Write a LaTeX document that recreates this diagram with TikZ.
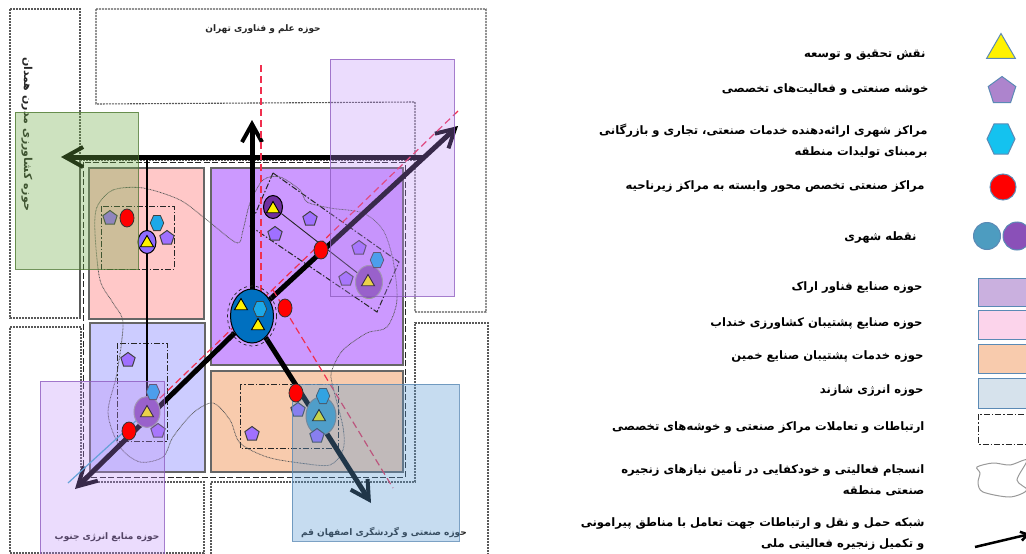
\documentclass[tikz,border=0pt]{standalone}
\usepackage{fontspec}
\usetikzlibrary{shapes.geometric,arrows.meta}
\TeXXeTstate=1
\newfontfamily\farsi[Script=Arabic]{DejaVu Sans}
\newcommand{\fatext}[1]{\beginR #1\endR}
\definecolor{pinkzone}{HTML}{FFC8C8}
\definecolor{lilaczone}{HTML}{CCCCFF}
\definecolor{purplezone}{HTML}{CC99FF}
\definecolor{orangezone}{HTML}{F8CBAD}
\definecolor{veilgreen}{HTML}{70AD47}
\definecolor{veilpurple}{HTML}{BC8AF8}
\definecolor{veilblue}{HTML}{5C9BD4}
\definecolor{veiledge}{HTML}{8E5CC0}
\definecolor{redline}{HTML}{F0304F}
\definecolor{edgeblue}{HTML}{5B8AB5}
\definecolor{darktown}{HTML}{7030A0}
\definecolor{midtown}{HTML}{8A50B8}
\definecolor{coreblue}{HTML}{0070C0}
\definecolor{skyblue}{HTML}{1CA8E8}
\definecolor{clusterfill}{HTML}{A070FF}
\pgfdeclarelayer{under}
\pgfsetlayers{under,main}

\begin{document}
\begin{tikzpicture}
  [x=1pt, y=-1pt,
   zone/.style={draw=black!60, line width=1.5},
   field/.style={draw=black!65, line width=1.1, dash pattern=on 2pt off 1pt},
   reach/.style={draw=black!85, line width=1, dash pattern=on 6pt off 2pt on 1.5pt off 2pt},
   veil/.style={fill opacity=.3, draw opacity=.8, line width=1},
   route/.style={black, line width=5, -{Straight Barb[length=18pt,width=20pt,line width=4pt]}},
   redaxis/.style={redline, line width=1.2, dash pattern=on 7pt off 4pt},
   blob/.style={draw=black!65, line width=.8, dash pattern=on .8pt off .7pt},
   cluster/.style={regular polygon, regular polygon sides=5, minimum size=15, inner sep=0, draw=black!75, line width=1, fill=clusterfill},
   service/.style={regular polygon, regular polygon sides=6, minimum size=13.5, inner sep=0, draw=black!75, line width=.8, fill=skyblue, yscale=1.3, transform shape},
   research/.style={regular polygon, regular polygon sides=3, minimum size=15, inner sep=0, draw=black, line width=.9, fill=yellow},
   plant/.style={ellipse, minimum width=14, minimum height=18, inner sep=0, draw=black!80, line width=.8, fill=red},
   town/.style={ellipse, inner sep=0, draw=black, line width=1},
   keymark/.style={draw=edgeblue, line width=1},
   swatch/.style={draw=edgeblue, line width=1},
   keytext/.style={anchor=east, align=right, font=\farsi\bfseries\fontsize{11.6}{21.5}\selectfont},
   maptext/.style={font=\farsi\bfseries\fontsize{9}{10}\selectfont, text=black!85}]
  \useasboundingbox (0,0) rectangle (1026,554);

  \begin{pgfonlayer}{under}
    \draw [zone, fill=pinkzone] (89,168) rectangle (204,319);
    \draw [zone, fill=lilaczone] (90,323) rectangle (205,472);
    \draw [zone, fill=purplezone] (211,168) rectangle (403,365);
    \draw [zone, fill=orangezone] (211,371) rectangle (403,472);

    \draw [field] (10,9) rectangle (80,318);
    \draw [field] (96,9) -- (486,9) -- (486,312) -- (415,312) -- (415,102) -- (96,104) -- cycle;
    \draw [field] (10,327) -- (81,327) -- (81,482) -- (204,482) -- (204,553) -- (10,553) -- cycle;
    \draw [field] (211,482) -- (415,482) -- (415,323) -- (488,323) -- (488,556) -- (211,556) -- cycle;
    \draw [field] (80,160) -- (415,160) (80,160) -- (80,318);
    \draw [draw=black!85, line width=1, dash pattern=on 6pt off 2.5pt] (83,162) rectangle (405,477);

    \draw [reach] (101,206) rectangle (174,269);
    \draw [reach] (117,343) rectangle (167,441);
    \draw [reach] (240,384) rectangle (338,448);
    \draw [reach] (273,173) -- (399,262) -- (377,312) -- (250,226) -- cycle;

    \draw [blob] plot [smooth cycle] coordinates {(97,207) (113,190) (143,188) (180,200) (207,220)
      (237,243) (243,230) (250,203) (263,180) (280,177) (300,190) (307,202) (330,208) (363,213)
      (383,230) (393,260) (397,300) (387,327) (367,333) (343,350) (332,370) (332,383) (343,427)
      (343,450) (330,465) (300,463) (267,457) (240,443) (230,420) (213,403) (193,413) (173,437)
      (163,457) (140,462) (120,447) (108,413) (117,373) (123,323) (113,303) (100,280) (95,233)};
  \end{pgfonlayer}

  \node [name=core, town, fill=coreblue, minimum width=43, minimum height=54] at (252,316) {};
  \node [name=corering, town, draw=black!85, line width=.7, dashed, minimum width=49, minimum height=60] at (252,316) {};
  \node [name=coretri1, research] at (241,306) {};
  \node [name=coretri2, research] at (258,326) {};
  \node [name=corehex, service] at (260,309) {};

  \node [name=pinktown, town, fill=purplezone!70!blue, minimum width=18, minimum height=23] at (147,242) {};
  \node [name=pinktri, research] at (147,243) {};
  \node [name=pinkclus1, cluster] at (110,218) {};
  \node [name=pinkclus2, cluster] at (167,238) {};
  \node [name=pinkhex, service] at (157,223) {};

  \node [name=archtown, town, fill=darktown, minimum width=19, minimum height=23] at (273,207) {};
  \node [name=archtri, research] at (273,209) {};
  \node [name=eastclus1, cluster] at (310,219) {};
  \node [name=eastclus2, cluster] at (275,234) {};
  \node [name=eastclus3, cluster] at (359,248) {};
  \node [name=eastclus4, cluster] at (346,279) {};
  \node [name=easttown, town, draw=black!40, fill=midtown, minimum width=27, minimum height=33] at (369,282) {};
  \node [name=easttri, research] at (368,282) {};
  \node [name=easthex, service] at (377,260) {};

  \node [name=lilacclus1, cluster] at (128,360) {};
  \node [name=lilactown, town, draw=black!40, fill=midtown, minimum width=26, minimum height=31] at (147,412) {};
  \node [name=lilactri, research] at (147,413) {};
  \node [name=lilachex, service] at (153,392) {};
  \node [name=lilacclus2, cluster] at (158,431) {};

  \node [name=orangeclus1, cluster] at (252,434) {};
  \node [name=orangeclus2, cluster] at (298,410) {};
  \node [name=orangetown, town, draw=black!50, fill=edgeblue!80!cyan, minimum width=30, minimum height=38] at (321,416) {};
  \node [name=orangetri, research] at (319,417) {};
  \node [name=orangehex, service] at (323,396) {};
  \node [name=orangeclus3, cluster] at (317,436) {};

  \coordinate (tipn) at (252,120);
  \coordinate (tipw) at (61,157);
  \coordinate (stubw) at (423,157);
  \coordinate (tipne) at (458,126);
  \coordinate (tipsw) at (75,489);
  \coordinate (tipse) at (371,503);
  \coordinate (stubn) at (147,157);
  \coordinate (axisn1) at (261,65);
  \coordinate (axisn2) at (261,300);
  \coordinate (axisse1) at (273,290);
  \coordinate (axisse2) at (393,488);
  \coordinate (axisne1) at (458,111);
  \coordinate (axisne2) at (158,400);
  \coordinate (bluesw1) at (68,483);
  \coordinate (bluesw2) at (137,420);

  \begin{pgfonlayer}{under}
    \path [black, line width=2] (stubn) edge (lilactown);
    \path [black!85, line width=.9] (archtown) edge (easttown);
    \path [route] (stubw) edge (tipw)
          (core) edge (tipn)
          (core) edge (tipne)
          (core) edge (tipsw)
          (core) edge (tipse);
    \path [redaxis] (axisn1) edge (axisn2)
                 (axisse1) edge (axisse2)
                 (axisne1) edge (axisne2);
    \path [edgeblue!70!cyan, line width=1.2] (bluesw1) edge (bluesw2);
  \end{pgfonlayer}

  \node [name=labeltehran, maptext] at (263,29) {\fatext{حوزه علم و فناوری تهران}};
  \node [name=labelhamedan, maptext, font=\farsi\bfseries\fontsize{11}{12}\selectfont, rotate=-90] at (27,134) {\fatext{حوزه کشاورزی مدرن همدان}};
  \node [name=labelsouth, maptext] at (107,537) {\fatext{حوزه منابع انرژی جنوب}};
  \node [name=labelqom, maptext] at (384,533) {\fatext{حوزه صنعتی و گردشگری اصفهان قم}};

  \draw [veil, fill=veilgreen, fill opacity=.35, draw=veilgreen!70!black] (15,112) rectangle (138,269);
  \draw [veil, fill=veilpurple, draw=veiledge] (330,59) rectangle (454,296);
  \draw [veil, fill=veilpurple, draw=veiledge] (40,381) rectangle (164,556);
  \draw [veil, fill=veilblue, fill opacity=.35, draw=edgeblue] (292,384) rectangle (459,541);

  \node [name=red1, plant] at (127,218) {};
  \node [name=red2, plant] at (321,250) {};
  \node [name=red3, plant] at (285,308) {};
  \node [name=red4, plant] at (296,393) {};
  \node [name=red5, plant] at (129,431) {};

  \node [name=keytri, regular polygon, regular polygon sides=3, minimum size=33, inner sep=0, keymark, fill=yellow] at (1001,50) {};
  \node [name=keyclus, regular polygon, regular polygon sides=5, minimum size=29, inner sep=0, keymark, fill=midtown!70!white] at (1002,91) {};
  \node [name=keyhex, regular polygon, regular polygon sides=6, minimum size=28, inner sep=0, keymark, fill=skyblue!70!cyan, yscale=1.24, transform shape] at (1001,139) {};
  \node [name=keyred, circle, minimum size=26, inner sep=0, keymark, fill=red] at (1003,187) {};
  \node [name=keyblue, circle, minimum size=27, inner sep=0, keymark, fill=edgeblue!85!cyan] at (987,236) {};
  \node [name=keypurple, circle, minimum size=28, inner sep=0, keymark, fill=midtown] at (1017,236) {};

  \draw [swatch, fill=midtown!45!white] (978,278) rectangle (1040,306);
  \draw [swatch, fill=magenta!17!white] (978,310) rectangle (1040,339);
  \draw [swatch, fill=orangezone] (978,344) rectangle (1040,373);
  \draw [swatch, fill=edgeblue!25!white] (978,378) rectangle (1040,408);
  \draw [reach, line width=.8] (978,414) rectangle (1040,444);
  \draw [draw=black!40, line width=1] plot [smooth cycle] coordinates {(977,467) (993,463) (1010,465)
    (1027,460) (1017,480) (1027,490) (1010,497) (983,492) (978,483) (980,473)};
  \coordinate (keyfrom) at (975,547);
  \coordinate (keyto) at (1030,534);
  \path [black, line width=2.5, -{Straight Barb[length=7pt,width=9pt]}] (keyfrom) edge (keyto);

  \node [name=text1, keytext] at (929,55) {\fatext{نقش تحقیق و توسعه}};
  \node [name=text2, keytext] at (932,90) {\fatext{خوشه صنعتی و فعالیت‌های تخصصی}};
  \node [name=text3, keytext] at (931,141) {\fatext{مراکز شهری ارائه‌دهنده خدمات صنعتی، تجاری و بازرگانی}\\\fatext{برمبنای تولیدات منطقه}};
  \node [name=text4, keytext] at (928,187) {\fatext{مراکز صنعتی تخصص محور وابسته به مراکز زیرناحیه}};
  \node [name=text5, keytext] at (920,238) {\fatext{نقطه شهری}};
  \node [name=text6, keytext] at (926,288) {\fatext{حوزه صنایع فناور اراک}};
  \node [name=text7, keytext] at (926,324) {\fatext{حوزه صنایع پشتیبان کشاورزی خنداب}};
  \node [name=text8, keytext] at (927,357) {\fatext{حوزه خدمات پشتیبان صنایع خمین}};
  \node [name=text9, keytext] at (927,391) {\fatext{حوزه انرژی شازند}};
  \node [name=text10, keytext] at (928,428) {\fatext{ارتباطات و تعاملات مراکز صنعتی و خوشه‌های تخصصی}};
  \node [name=text11, keytext] at (928,479) {\fatext{انسجام فعالیتی و خودکفایی در تأمین نیازهای زنجیره}\\\fatext{صنعتی منطقه}};
  \node [name=text12, keytext] at (928,534) {\fatext{شبکه حمل و نقل و ارتباطات جهت تعامل با مناطق پیرامونی}\\\fatext{و تکمیل زنجیره فعالیتی ملی}};
\end{tikzpicture}
\end{document}
